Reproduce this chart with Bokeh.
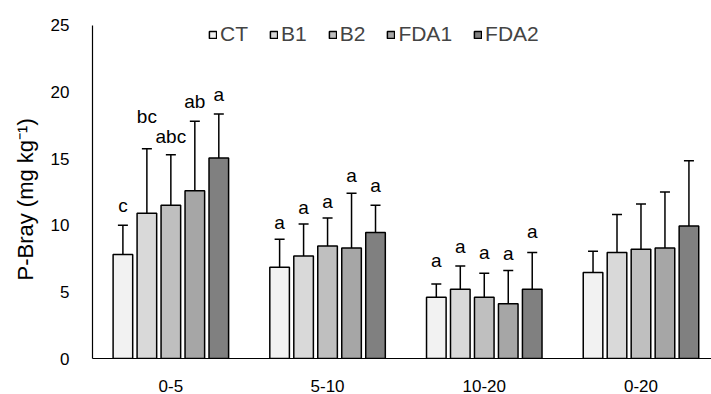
from bokeh.plotting import figure
from bokeh.models import (ColumnDataSource, Range1d, FixedTicker, Whisker, TeeHead, Legend, Title)
from bokeh.core.properties import value
from bokeh.embed import file_html
from bokeh.resources import INLINE

categories = ["0-5", "5-10", "10-20", "0-20"]
treatments = ["CT", "B1", "B2", "FDA1", "FDA2"]
colors = ["#f2f2f2", "#d9d9d9", "#bfbfbf", "#a6a6a6", "#808080"]

means = {
    "CT":   [7.8, 6.85, 4.6, 6.45],
    "B1":   [10.9, 7.7, 5.2, 7.95],
    "B2":   [11.5, 8.45, 4.6, 8.2],
    "FDA1": [12.6, 8.3, 4.1, 8.3],
    "FDA2": [15.05, 9.45, 5.2, 9.95],
}
errors = {
    "CT":   [2.2, 2.1, 1.0, 1.6],
    "B1":   [4.85, 2.4, 1.75, 2.85],
    "B2":   [3.8, 2.1, 1.8, 3.4],
    "FDA1": [5.2, 4.1, 2.5, 4.2],
    "FDA2": [3.3, 2.05, 2.75, 4.9],
}
letters = {
    "CT":   ["c", "a", "a", ""],
    "B1":   ["bc", "a", "a", ""],
    "B2":   ["abc", "a", "a", ""],
    "FDA1": ["ab", "a", "a", ""],
    "FDA2": ["a", "a", "a", ""],
}
letter_y = {
    "CT":   [11.45, 10.2, 7.35, 0],
    "B1":   [18.15, 11.35, 8.4, 0],
    "B2":   [16.65, 11.8, 7.95, 0],
    "FDA1": [19.3, 13.7, 7.9, 0],
    "FDA2": [19.8, 12.95, 9.5, 0],
}
y_ticks = [0, 5, 10, 15, 20, 25]
y_title = "P-Bray (mg kg⁻¹)"

FONT = "Liberation Sans"

# frame spans the full height so the legend sits inside it; axis drawn only 0..25
p = figure(width=711, height=394, output_backend="svg", toolbar_location=None,
           x_range=Range1d(0, 3.95), y_range=Range1d(0, 26.87),
           min_border_left=91, min_border_right=0, min_border_top=0, min_border_bottom=34)
p.outline_line_color = None
p.xgrid.grid_line_color = None
p.ygrid.grid_line_color = None
p.background_fill_color = "white"

step = 0.153
bw = 0.125
centers = [i + 0.5 for i in range(len(categories))]

items = []
for j, t in enumerate(treatments):
    xs = [c + (j - 2) * step for c in centers]
    src = ColumnDataSource(dict(
        x=xs, top=means[t],
        upper=[m + e for m, e in zip(means[t], errors[t])],
        lower=[m - e for m, e in zip(means[t], errors[t])],
    ))
    r = p.vbar(x="x", top="top", width=bw, source=src, fill_color=colors[j],
               line_color="black", line_width=1.5)
    items.append((t, [r]))
    w = Whisker(base="x", upper="upper", lower="lower", source=src,
                line_color="black", line_width=1.5,
                upper_head=TeeHead(size=10, line_color="black", line_width=1.5),
                lower_head=TeeHead(size=10, line_color="black", line_width=1.5))
    p.add_layout(w)
    lab = [(x, y, s) for x, y, s in zip(xs, letter_y[t], letters[t]) if s]
    lsrc = ColumnDataSource(dict(x=[a[0] for a in lab], y=[a[1] for a in lab],
                                 text=[a[2] for a in lab]))
    p.text(x="x", y="y", text="text", source=lsrc, text_align="center",
           text_baseline="middle", text_font_size="19px", text_color="black",
           text_font=value(FONT))

legend = Legend(items=items, orientation="horizontal", location=(116, 311),
                background_fill_alpha=0, border_line_color=None,
                glyph_width=9, glyph_height=9, label_standoff=3, spacing=21,
                padding=0, margin=0, label_height=26,
                label_text_font_size="21px", label_text_font=FONT,
                label_text_baseline="middle")
p.add_layout(legend)

# axes
p.xaxis.ticker = FixedTicker(ticks=centers)
p.xaxis.major_label_overrides = {c: lab for c, lab in zip(centers, categories)}
p.xaxis.major_tick_line_color = None
p.xaxis.minor_tick_line_color = None
p.xaxis.axis_line_color = "black"
p.xaxis.axis_line_width = 1.2
p.xaxis.major_label_standoff = 15
p.xaxis.major_label_text_font_size = "17px"
p.xaxis.major_label_text_font = FONT
p.xaxis.major_label_text_color = "black"

p.yaxis.ticker = FixedTicker(ticks=y_ticks)
p.yaxis.bounds = (y_ticks[0], y_ticks[-1])
p.yaxis.major_tick_line_color = None
p.yaxis.minor_tick_line_color = None
p.yaxis.axis_line_color = "black"
p.yaxis.axis_line_width = 1.2
p.yaxis.major_label_standoff = 17
p.yaxis.major_label_text_font_size = "17px"
p.yaxis.major_label_text_font = FONT
p.yaxis.major_label_text_color = "black"

# y-axis title: a side title so it can be centred on the 0..25 axis span
p.add_layout(Title(text=y_title, align="left", offset=78, standoff=20,
                   text_font_size="22px", text_font=FONT, text_font_style="normal",
                   text_color="black"), "left")

open("out.html", "w").write(file_html(p, INLINE))
